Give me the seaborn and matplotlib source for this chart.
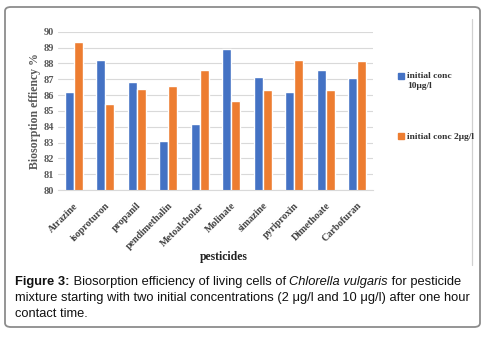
import pandas as pd
import matplotlib.pyplot as plt
import seaborn as sns
from matplotlib.patches import FancyBboxPatch
from matplotlib.lines import Line2D

# data
pesticides = ['Atrazine', 'isoproturon', 'propanil', 'pendimethalin', 'Metoalcholar',
              'Molinate', 'simazine', 'pyriproxin', 'Dimethoate', 'Carbofuran']
conc_10 = [86.2, 88.2, 86.85, 83.1, 84.2, 88.9, 87.15, 86.2, 87.55, 87.1]
conc_2 = [89.35, 85.45, 86.35, 86.6, 87.55, 85.6, 86.3, 88.2, 86.3, 88.15]
series_names = ['initial conc\n10μg/l', 'initial conc 2μg/l']
colors = ['#4472C4', '#ED7D31']

df = pd.DataFrame({
    'pesticide': pesticides * 2,
    'value': conc_10 + conc_2,
    'series': [series_names[0]] * len(pesticides) + [series_names[1]] * len(pesticides),
})

sns.set_style('white')
serif = ['Liberation Serif', 'DejaVu Serif']
sans = ['Liberation Sans', 'DejaVu Sans']

W, H = 490, 337
fig = plt.figure(figsize=(W / 100, H / 100), dpi=100, facecolor='white')
ax = fig.add_axes([58 / W, 1 - 190 / H, (373 - 58) / W, (190 - 31.7) / H])

sns.barplot(data=df, x='pesticide', y='value', hue='series', palette=colors,
            width=0.56, gap=0, ax=ax, saturation=1, legend=False)

ax.set_ylim(80, 90)
ax.set_yticks(range(80, 91))
ax.grid(axis='y', color='#d9d9d9', lw=0.8)
ax.set_axisbelow(True)
for s in ['top', 'right', 'left']:
    ax.spines[s].set_visible(False)
ax.spines['bottom'].set_color('#d9d9d9')
ax.tick_params(axis='y', length=0, pad=3)
ax.tick_params(axis='x', length=0, pad=8)

for lab in ax.get_yticklabels():
    lab.set_family(serif)
    lab.set_fontweight('bold')
    lab.set_fontsize(7.5)
    lab.set_color('#595959')
ax.set_xticks(range(len(pesticides)))
ax.set_xticklabels(pesticides, rotation=45, ha='right', va='top', rotation_mode='anchor',
                   family=serif, fontweight='bold', fontsize=7.2, color='#404040')

ax.set_xlabel('pesticides', family=serif, fontweight='bold', fontsize=8.5, color='#222222', va='center')
ax.xaxis.set_label_coords((224 - 58) / 315, (190 - 257) / 158.3)
ax.set_ylabel('Biosorption effiency %', family=serif, fontweight='bold', fontsize=8.5,
              color='#595959', labelpad=2)

handles = [Line2D([], [], marker='s', ls='none', color=c, markersize=4.5) for c in colors]
leg = fig.legend(handles, series_names, loc='upper left', bbox_to_anchor=(388 / W, 1 - 64 / H),
                 frameon=False, prop={'family': serif, 'weight': 'bold', 'size': 6.8},
                 labelspacing=4.6, handletextpad=0.1, handlelength=1.0, labelcolor='#333333')
# put the square next to the first text line
for col in leg._legend_handle_box.get_children():
    for item in col.get_children():
        item.align = 'top'

# outer frame and chart area edge
fig.patches.append(FancyBboxPatch((5 / W, 10 / H), 475 / W, 320 / H, boxstyle='round,pad=0,rounding_size=0.012',
                                  transform=fig.transFigure, fill=False, ec='#8c8c8c', lw=1.3))
fig.add_artist(Line2D([472 / W, 472 / W], [1 - 19 / H, 1 - 265 / H], color='#d0d0d0', lw=0.9,
                      transform=fig.transFigure))

# caption with mixed styles
fig.canvas.draw()
renderer = fig.canvas.get_renderer()


def caption_line(runs, x0, y):
    x = x0
    for txt, weight, style in runs:
        t = fig.text(x, y, txt, family=sans, fontweight=weight, fontstyle=style, fontsize=9.3,
                     color='#111111', va='center', ha='left', transform=None)
        bb = t.get_window_extent(renderer)
        x = bb.x1


caption_line([('Figure 3:', 'bold', 'normal'),
              (' Biosorption efficiency of living cells of ', 'normal', 'normal'),
              ('Chlorella vulgaris', 'normal', 'italic'),
              (' for pesticide', 'normal', 'normal')], 15, H - 282)
caption_line([('mixture starting with two initial concentrations (2 μg/l and 10 μg/l) after one hour',
               'normal', 'normal')], 15, H - 298)
caption_line([('contact time.', 'normal', 'normal')], 15, H - 314)

fig.savefig('out.png', dpi=100)
